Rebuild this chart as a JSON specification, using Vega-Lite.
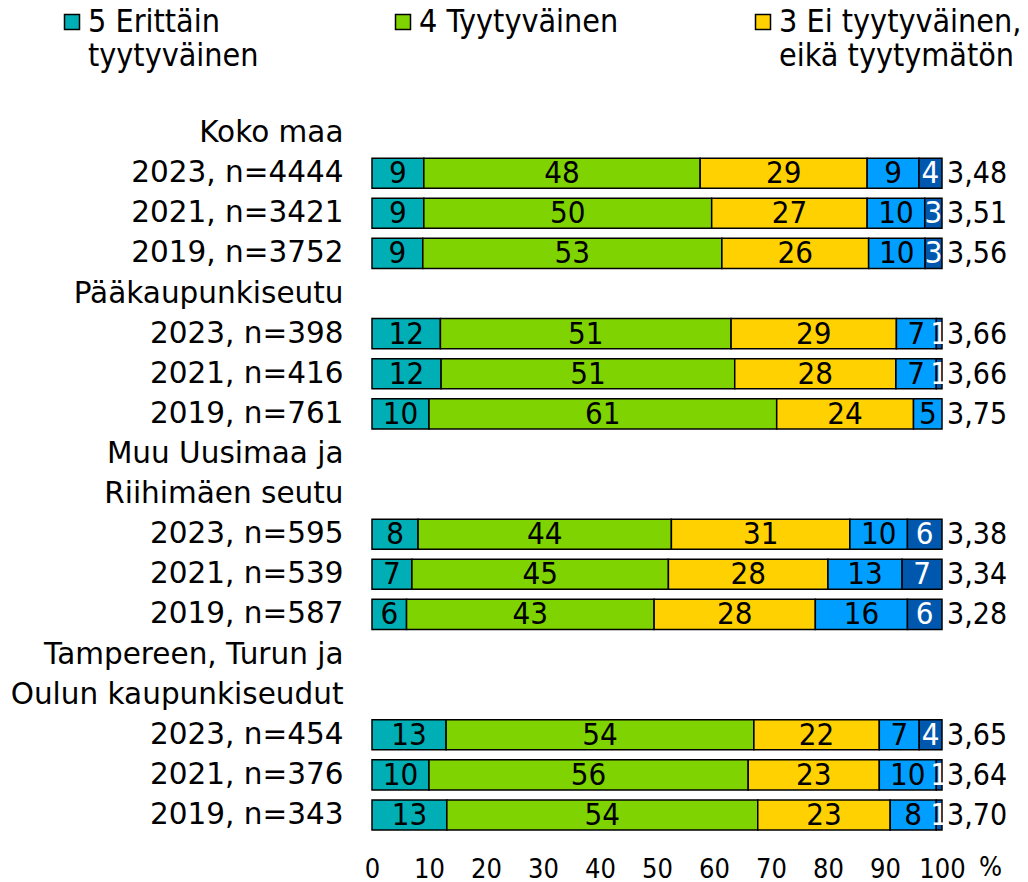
{
  "$schema": "https://vega.github.io/schema/vega-lite/v6.json",
  "autosize": {"type": "none"},
  "padding": {"left": 372, "top": 113, "right": 86, "bottom": 47},
  "width": 570,
  "height": 722,
  "background": "white",
  "config": {"font": "DejaVu Sans Condensed", "view": {"stroke": null}},
  "datasets": {
    "bars": [
      {"row": "2023, n=4444", "cat": "5 Erittäin tyytyväinen", "k": 5, "v": 9},
      {"row": "2023, n=4444", "cat": "4 Tyytyväinen", "k": 4, "v": 48},
      {"row": "2023, n=4444", "cat": "3 Ei tyytyväinen, eikä tyytymätön", "k": 3, "v": 29},
      {"row": "2023, n=4444", "cat": "2 Tyytymätön", "k": 2, "v": 9},
      {"row": "2023, n=4444", "cat": "1 Erittäin tyytymätön", "k": 1, "v": 4},
      {"row": "2021, n=3421", "cat": "5 Erittäin tyytyväinen", "k": 5, "v": 9},
      {"row": "2021, n=3421", "cat": "4 Tyytyväinen", "k": 4, "v": 50},
      {"row": "2021, n=3421", "cat": "3 Ei tyytyväinen, eikä tyytymätön", "k": 3, "v": 27},
      {"row": "2021, n=3421", "cat": "2 Tyytymätön", "k": 2, "v": 10},
      {"row": "2021, n=3421", "cat": "1 Erittäin tyytymätön", "k": 1, "v": 3},
      {"row": "2019, n=3752", "cat": "5 Erittäin tyytyväinen", "k": 5, "v": 9},
      {"row": "2019, n=3752", "cat": "4 Tyytyväinen", "k": 4, "v": 53},
      {"row": "2019, n=3752", "cat": "3 Ei tyytyväinen, eikä tyytymätön", "k": 3, "v": 26},
      {"row": "2019, n=3752", "cat": "2 Tyytymätön", "k": 2, "v": 10},
      {"row": "2019, n=3752", "cat": "1 Erittäin tyytymätön", "k": 1, "v": 3},
      {"row": "2023, n=398", "cat": "5 Erittäin tyytyväinen", "k": 5, "v": 12},
      {"row": "2023, n=398", "cat": "4 Tyytyväinen", "k": 4, "v": 51},
      {"row": "2023, n=398", "cat": "3 Ei tyytyväinen, eikä tyytymätön", "k": 3, "v": 29},
      {"row": "2023, n=398", "cat": "2 Tyytymätön", "k": 2, "v": 7},
      {"row": "2023, n=398", "cat": "1 Erittäin tyytymätön", "k": 1, "v": 1},
      {"row": "2021, n=416", "cat": "5 Erittäin tyytyväinen", "k": 5, "v": 12},
      {"row": "2021, n=416", "cat": "4 Tyytyväinen", "k": 4, "v": 51},
      {"row": "2021, n=416", "cat": "3 Ei tyytyväinen, eikä tyytymätön", "k": 3, "v": 28},
      {"row": "2021, n=416", "cat": "2 Tyytymätön", "k": 2, "v": 7},
      {"row": "2021, n=416", "cat": "1 Erittäin tyytymätön", "k": 1, "v": 1},
      {"row": "2019, n=761", "cat": "5 Erittäin tyytyväinen", "k": 5, "v": 10},
      {"row": "2019, n=761", "cat": "4 Tyytyväinen", "k": 4, "v": 61},
      {"row": "2019, n=761", "cat": "3 Ei tyytyväinen, eikä tyytymätön", "k": 3, "v": 24},
      {"row": "2019, n=761", "cat": "2 Tyytymätön", "k": 2, "v": 5},
      {"row": "2023, n=595", "cat": "5 Erittäin tyytyväinen", "k": 5, "v": 8},
      {"row": "2023, n=595", "cat": "4 Tyytyväinen", "k": 4, "v": 44},
      {"row": "2023, n=595", "cat": "3 Ei tyytyväinen, eikä tyytymätön", "k": 3, "v": 31},
      {"row": "2023, n=595", "cat": "2 Tyytymätön", "k": 2, "v": 10},
      {"row": "2023, n=595", "cat": "1 Erittäin tyytymätön", "k": 1, "v": 6},
      {"row": "2021, n=539", "cat": "5 Erittäin tyytyväinen", "k": 5, "v": 7},
      {"row": "2021, n=539", "cat": "4 Tyytyväinen", "k": 4, "v": 45},
      {"row": "2021, n=539", "cat": "3 Ei tyytyväinen, eikä tyytymätön", "k": 3, "v": 28},
      {"row": "2021, n=539", "cat": "2 Tyytymätön", "k": 2, "v": 13},
      {"row": "2021, n=539", "cat": "1 Erittäin tyytymätön", "k": 1, "v": 7},
      {"row": "2019, n=587", "cat": "5 Erittäin tyytyväinen", "k": 5, "v": 6},
      {"row": "2019, n=587", "cat": "4 Tyytyväinen", "k": 4, "v": 43},
      {"row": "2019, n=587", "cat": "3 Ei tyytyväinen, eikä tyytymätön", "k": 3, "v": 28},
      {"row": "2019, n=587", "cat": "2 Tyytymätön", "k": 2, "v": 16},
      {"row": "2019, n=587", "cat": "1 Erittäin tyytymätön", "k": 1, "v": 6},
      {"row": "2023, n=454", "cat": "5 Erittäin tyytyväinen", "k": 5, "v": 13},
      {"row": "2023, n=454", "cat": "4 Tyytyväinen", "k": 4, "v": 54},
      {"row": "2023, n=454", "cat": "3 Ei tyytyväinen, eikä tyytymätön", "k": 3, "v": 22},
      {"row": "2023, n=454", "cat": "2 Tyytymätön", "k": 2, "v": 7},
      {"row": "2023, n=454", "cat": "1 Erittäin tyytymätön", "k": 1, "v": 4},
      {"row": "2021, n=376", "cat": "5 Erittäin tyytyväinen", "k": 5, "v": 10},
      {"row": "2021, n=376", "cat": "4 Tyytyväinen", "k": 4, "v": 56},
      {"row": "2021, n=376", "cat": "3 Ei tyytyväinen, eikä tyytymätön", "k": 3, "v": 23},
      {"row": "2021, n=376", "cat": "2 Tyytymätön", "k": 2, "v": 10},
      {"row": "2021, n=376", "cat": "1 Erittäin tyytymätön", "k": 1, "v": 1},
      {"row": "2019, n=343", "cat": "5 Erittäin tyytyväinen", "k": 5, "v": 13},
      {"row": "2019, n=343", "cat": "4 Tyytyväinen", "k": 4, "v": 54},
      {"row": "2019, n=343", "cat": "3 Ei tyytyväinen, eikä tyytymätön", "k": 3, "v": 23},
      {"row": "2019, n=343", "cat": "2 Tyytymätön", "k": 2, "v": 8},
      {"row": "2019, n=343", "cat": "1 Erittäin tyytymätön", "k": 1, "v": 1}
    ],
    "means": [
      {"row": "2023, n=4444", "mean": "3,48"},
      {"row": "2021, n=3421", "mean": "3,51"},
      {"row": "2019, n=3752", "mean": "3,56"},
      {"row": "2023, n=398", "mean": "3,66"},
      {"row": "2021, n=416", "mean": "3,66"},
      {"row": "2019, n=761", "mean": "3,75"},
      {"row": "2023, n=595", "mean": "3,38"},
      {"row": "2021, n=539", "mean": "3,34"},
      {"row": "2019, n=587", "mean": "3,28"},
      {"row": "2023, n=454", "mean": "3,65"},
      {"row": "2021, n=376", "mean": "3,64"},
      {"row": "2019, n=343", "mean": "3,70"}
    ]
  },
  "encoding": {
    "y": {
      "field": "row",
      "type": "nominal",
      "scale": {
        "domain": ["Koko maa", "2023, n=4444", "2021, n=3421", "2019, n=3752", "Pääkaupunkiseutu", "2023, n=398", "2021, n=416", "2019, n=761", "Muu Uusimaa ja", "Riihimäen seutu", "2023, n=595", "2021, n=539", "2019, n=587", "Tampereen, Turun ja", "Oulun kaupunkiseudut", "2023, n=454", "2021, n=376", "2019, n=343"],
        "paddingInner": 0.25,
        "paddingOuter": 0.125
      },
      "axis": {"title": null, "ticks": false, "domain": false, "labelFont": "DejaVu Sans", "labelFontSize": 29.5, "labelPadding": 29, "labelColor": "black", "labelLimit": 0}
    }
  },
  "layer": [
    {
      "data": {"name": "bars"},
      "mark": {"type": "bar", "stroke": "black", "strokeWidth": 1.5},
      "encoding": {
        "x": {
          "field": "v", "type": "quantitative", "stack": "normalize",
          "scale": {"domain": [0, 1], "nice": false},
          "axis": {
            "values": [0, 0.1, 0.2, 0.3, 0.4, 0.5, 0.6, 0.7, 0.8, 0.9, 1],
            "labelExpr": "round(datum.value * 100)",
            "labelOverlap": false,
            "labelFlush": false,
            "ticks": false, "domain": false, "grid": false,
            "labelFontSize": 27, "labelPadding": 21, "labelColor": "black",
            "title": "%", "titleFontSize": 27, "titleFontWeight": "normal", "titleColor": "black",
            "titleAlign": "center", "titleBaseline": "alphabetic", "titleX": 618, "titleY": 40
          }
        },
        "color": {
          "field": "cat", "type": "nominal",
          "scale": {
            "domain": ["5 Erittäin tyytyväinen", "4 Tyytyväinen", "3 Ei tyytyväinen, eikä tyytymätön", "2 Tyytymätön", "1 Erittäin tyytymätön"],
            "range": ["#00AEB5", "#7FD300", "#FFD100", "#009EFF", "#0057AE"]
          },
          "legend": {
            "title": null,
            "orient": "none",
            "legendX": -316,
            "legendY": -107,
            "padding": 0,
            "direction": "horizontal",
            "columns": 3,
            "values": ["5 Erittäin tyytyväinen", "4 Tyytyväinen", "3 Ei tyytyväinen, eikä tyytymätön"],
            "labelExpr": "datum.label == '5 Erittäin tyytyväinen' ? ['5 Erittäin', 'tyytyväinen'] : datum.label == '3 Ei tyytyväinen, eikä tyytymätön' ? ['3 Ei tyytyväinen,', 'eikä tyytymätön'] : [datum.label, ' ']",
            "labelFontSize": 32,
            "labelLineHeight": 32,
            "labelColor": "black",
            "labelLimit": 0,
            "symbolType": "square",
            "symbolSize": 225,
            "symbolStrokeColor": "black",
            "symbolStrokeWidth": 1.5,
            "labelOffset": 0,
            "columnPadding": 128
          }
        },
        "order": {"field": "k", "sort": "descending"}
      }
    },
    {
      "data": {"name": "bars"},
      "transform": [
        {"stack": "v", "groupby": ["row"], "sort": [{"field": "k", "order": "descending"}], "offset": "normalize", "as": ["x0", "x1"]},
        {"calculate": "(datum.x0 + datum.x1) / 2", "as": "xm"}
      ],
      "mark": {"type": "text", "fontSize": 31, "baseline": "middle", "dy": 1},
      "encoding": {
        "x": {"field": "xm", "type": "quantitative"},
        "text": {"field": "v", "type": "quantitative"},
        "color": {"condition": {"test": "datum.k == 1", "value": "white"}, "value": "black"}
      }
    },
    {
      "data": {"name": "means"},
      "mark": {"type": "text", "fontSize": 30, "align": "left", "baseline": "middle", "dx": 5, "dy": 1, "color": "black"},
      "encoding": {
        "x": {"datum": 1, "type": "quantitative"},
        "text": {"field": "mean", "type": "nominal"}
      }
    }
  ]
}
